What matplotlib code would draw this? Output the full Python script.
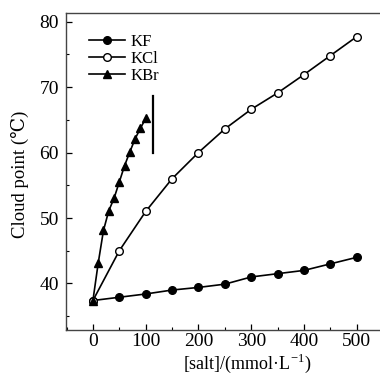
import matplotlib
matplotlib.use("Agg")
import matplotlib.pyplot as plt
from matplotlib.ticker import MultipleLocator

plt.rcParams['font.family'] = ['Liberation Serif', 'DejaVu Serif', 'DejaVu Sans']
plt.rcParams['mathtext.fontset'] = 'custom'
plt.rcParams['mathtext.rm'] = 'Liberation Serif'

# 数据
salt_kf = [0, 50, 100, 150, 200, 250, 300, 350, 400, 450, 500]
cp_kf = [37.4, 37.9, 38.4, 39.0, 39.4, 39.9, 41.0, 41.5, 42.0, 43.0, 44.0]

salt_kcl = [0, 50, 100, 150, 200, 250, 300, 350, 400, 450, 500]
cp_kcl = [37.4, 45.0, 51.0, 56.0, 60.0, 63.6, 66.6, 69.1, 71.9, 74.8, 77.7]

salt_kbr = [0, 10, 20, 30, 40, 50, 60, 70, 80, 90, 100]
cp_kbr = [37.4, 43.1, 48.1, 51.1, 53.0, 55.5, 58.0, 60.1, 62.1, 63.7, 65.2]

# 竖线标记
mark_x = 113
mark_y = [60, 68.7]

fig = plt.figure(figsize=(3.8, 3.77), dpi=100)
ax = fig.add_axes([66/380, 47/377, 323/380, 317/377])

ax.plot(salt_kf, cp_kf, color='black', lw=1.2, marker='o', ms=5.5, mfc='black', label='KF')
ax.plot(salt_kcl, cp_kcl, color='black', lw=1.2, marker='o', ms=5.5, mfc='white', label='KCl')
ax.plot(salt_kbr, cp_kbr, color='black', lw=1.2, marker='^', ms=5.5, mfc='black', label='KBr')
ax.plot([mark_x, mark_x], mark_y, color='black', lw=1.6)

ax.set_xlim(-51, 561)
ax.set_ylim(32.9, 81.3)
ax.xaxis.set_major_locator(MultipleLocator(100))
ax.xaxis.set_minor_locator(MultipleLocator(50))
ax.yaxis.set_major_locator(MultipleLocator(10))
ax.yaxis.set_minor_locator(MultipleLocator(5))
ax.tick_params(which='both', direction='in', labelsize=14, colors='black')
ax.tick_params(which='major', length=4, width=0.9)
ax.tick_params(which='minor', length=2.5, width=0.8)
ax.tick_params(axis='x', pad=2.5)
ax.tick_params(axis='y', pad=5)
for s in ax.spines.values():
    s.set_color('#444444')
    s.set_linewidth(1.0)

ax.set_ylabel('Cloud point (℃)', fontsize=13.5)
ax.set_xlabel(r'[salt]/(mmol·L$^{-1}$)', fontsize=13)
ax.xaxis.set_label_coords(0.56, -0.07)
ax.yaxis.set_label_coords(-0.115, 0.49)

ax.legend(loc='upper left', bbox_to_anchor=(0.05, 0.955), frameon=False, fontsize=12,
          handlelength=2.2, handletextpad=0.3, labelspacing=0.05, borderaxespad=0)

fig.savefig('out.png', dpi=100)
